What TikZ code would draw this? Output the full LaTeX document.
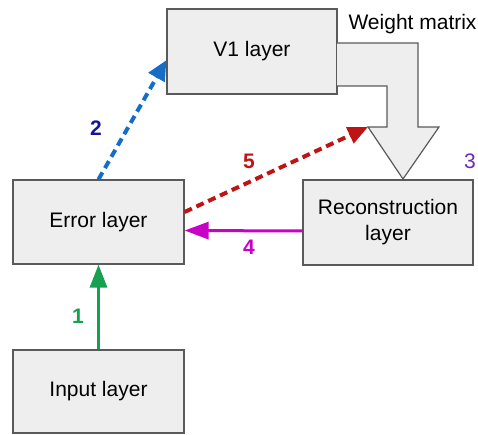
\documentclass[tikz,border=0pt]{standalone}
\usepackage{fontspec}
\setmainfont{Liberation Sans}
\usetikzlibrary{arrows.meta,calc}

\definecolor{boxfill}{HTML}{EEEEEE}
\definecolor{boxline}{HTML}{5A5A5A}
\definecolor{inpgreen}{RGB}{22,160,80}
\definecolor{fwdblue}{RGB}{20,110,200}
\definecolor{lblblue}{RGB}{20,20,150}
\definecolor{errred}{RGB}{190,20,20}
\definecolor{recmag}{RGB}{200,0,200}
\definecolor{wpurple}{RGB}{110,40,180}

\tikzset{
  layer/.style={draw=boxline,fill=boxfill,line width=1.2pt,minimum width=170pt,
    minimum height=85pt,align=center,inner sep=0pt,font=\fontsize{21}{26}\selectfont},
  num/.style={font=\fontsize{21}{25}\selectfont\bfseries},
}

\begin{document}
\begin{tikzpicture}[x=1pt,y=-1pt]
\useasboundingbox (0,0) rectangle (478,435);
\node[layer] (v1) at (252,51.5) {V1 layer};
\node[layer,minimum width=171pt,minimum height=84pt] (err) at (98.5,222) {Error layer};
\node[layer] (rec) at (388,222.5) {Reconstruction\\layer};
\node[layer,minimum width=171pt,minimum height=83pt] (inp) at (98.5,391.5) {Input layer};
% weight matrix arrow
\filldraw[fill=boxfill,draw=boxline,line width=1.2pt]
  (337,43) -- (418,43) -- (418,127) -- (439,127) -- (403,179) -- (368,127)
  -- (387,127) -- (387,86) -- (337,86);
\coordinate (wmtip) at (368,127);
\node[anchor=west,font=\fontsize{21}{25}\selectfont] (wmlbl) at (345,24) {Weight matrix};
% connections
\draw[-{Triangle[length=23pt,width=17pt]},inpgreen,line width=3pt] (inp.north) -- (err.south);
\draw[-{Triangle[length=20pt,width=18pt]},fwdblue,line width=4pt,dash pattern=on 8pt off 5pt]
  (err.north) -- ($(v1.south west)!0.4!(v1.north west)$);
\draw[-{Triangle[length=20pt,width=17pt]},errred,line width=4pt,dash pattern=on 8pt off 5pt]
  ([yshift=10pt]err.east) -- (wmtip);
\draw[-{Triangle[length=24pt,width=17pt]},recmag,line width=3pt]
  ([yshift=-8.5pt]rec.west) -- ([yshift=-8.5pt]err.east);
% step numbers
\node[num,text=inpgreen] (n1) at (78,316) {1};
\node[num,text=lblblue] (n2) at (96,128) {2};
\node[font=\fontsize{21}{25}\selectfont,text=wpurple] (n3) at (470,161) {3};
\node[num,text=recmag] (n4) at (249,247) {4};
\node[num,text=errred] (n5) at (249,161) {5};
\end{tikzpicture}
\end{document}
